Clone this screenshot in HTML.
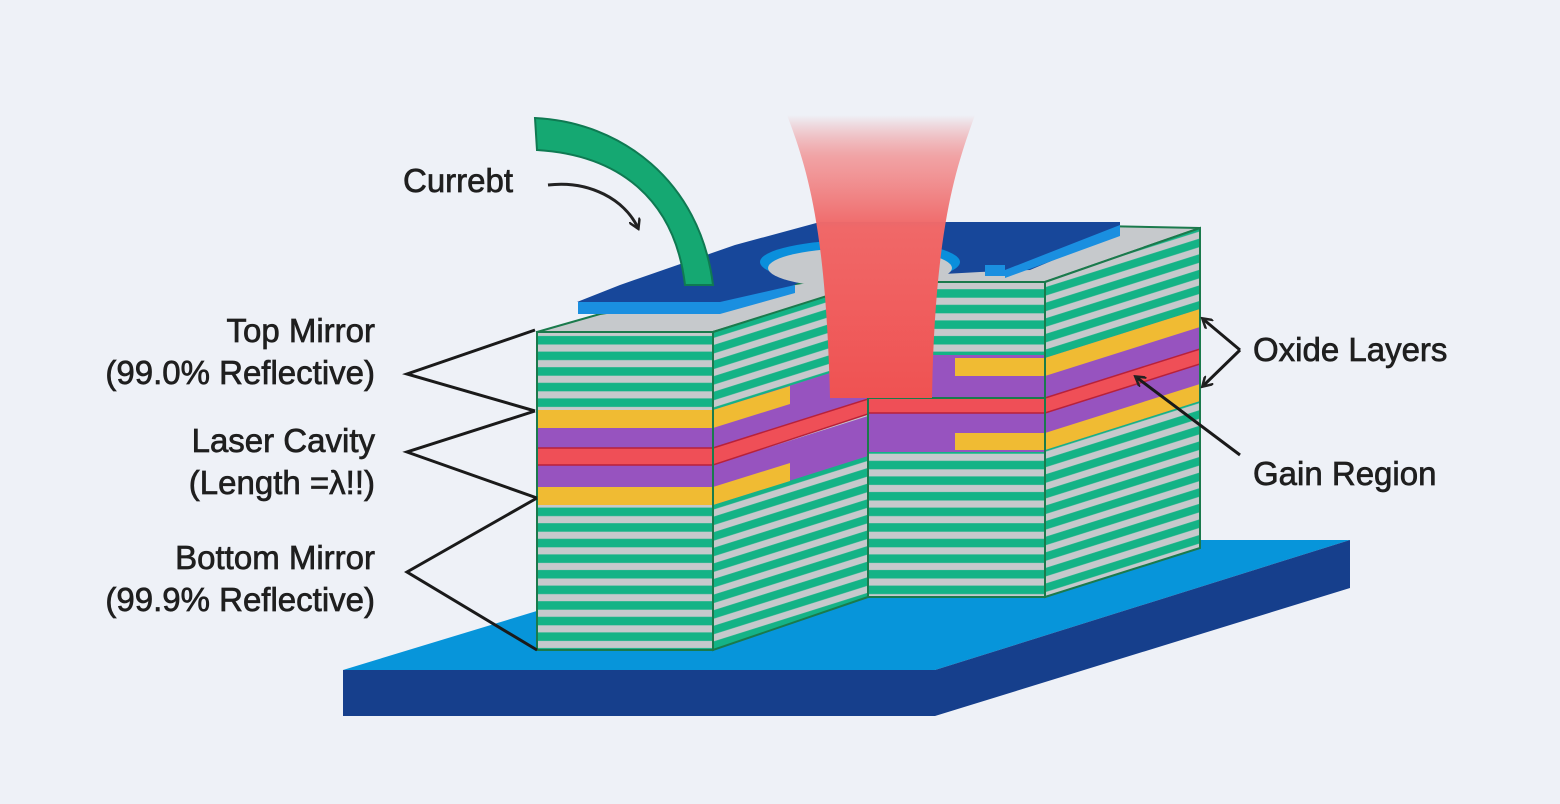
<!DOCTYPE html>
<html><head><meta charset="utf-8"><style>
html,body{margin:0;padding:0;background:#eef1f7;}
svg{display:block}
text{font-family:"Liberation Sans",sans-serif;font-size:33px;fill:#1f1f1f;stroke:#1f1f1f;stroke-width:0.7}
</style></head><body>
<svg width="1560" height="804" viewBox="0 0 1560 804" xmlns="http://www.w3.org/2000/svg">
<defs>
<pattern id="st" patternUnits="userSpaceOnUse" width="20" height="15.6" y="332">
<rect width="20" height="15.6" fill="#c6c9cc"/><rect y="4" width="20" height="8.5" fill="#14b386"/>
</pattern>
<pattern id="sk" patternUnits="userSpaceOnUse" width="20" height="15.6" y="332" patternTransform="skewY(-17.5)">
<rect width="20" height="15.6" fill="#c6c9cc"/><rect y="4" width="20" height="8.5" fill="#14b386"/>
</pattern>
<linearGradient id="beam" x1="0" y1="0" x2="0" y2="1">
<stop offset="0" stop-color="#f05a5a" stop-opacity="0"/>
<stop offset="0.15" stop-color="#f28080" stop-opacity="0.7"/>
<stop offset="0.4" stop-color="#f06868" stop-opacity="1"/>
<stop offset="1" stop-color="#ef5252"/>
</linearGradient>
<marker id="ah" markerWidth="12" markerHeight="12" refX="9" refY="6" orient="auto" markerUnits="userSpaceOnUse">
<path d="M0,0 L10,6 L0,12" fill="none" stroke="#222" stroke-width="2.5"/>
</marker>
</defs>

<polygon points="343,670 935,670 1350,540 770,540" fill="#0795da"/>
<polygon points="343,670 935,670 935,716 343,716" fill="#163f8c"/>
<polygon points="935,670 1350,540 1350,588 935,716" fill="#163f8c"/>

<polygon points="537,332 713,332 830,296 935,282 1045,282 1200,228 1100,226 1000,250 760,290 600,314" fill="#c6c9cc" stroke="#1a7a4c" stroke-width="2"/>
<polygon points="577,302 760,302 800,282 980,272 1030,270 1120,232 1120,222 820,222 735,245 620,285" fill="#17479a"/>
<ellipse cx="860" cy="262" rx="100" ry="22" fill="#0a8fdc"/>
<ellipse cx="860" cy="268" rx="92" ry="20" fill="#c6c9cc"/>
<polygon points="578,302 720,302 720,314 578,314" fill="#1a8fe0"/>
<polygon points="720,302 795,285 795,293 720,314" fill="#1a8fe0"/>
<polygon points="985,265 1005,265 1005,276 985,276" fill="#1a8fe0"/>
<polygon points="1005,270 1120,225 1120,236 1005,278" fill="#1a8fe0"/>

<rect x="868" y="282" width="177" height="120" fill="url(#st)"/>
<rect x="868" y="355" width="177" height="45" fill="#9753bf"/>
<rect x="955" y="358" width="90" height="18" fill="#f0bb33"/>
<line x1="1045" y1="282" x2="935" y2="282" stroke="#1a7a4c" stroke-width="2"/>

<rect x="868" y="398" width="177" height="199" fill="url(#st)"/>
<rect x="868" y="413" width="177" height="39" fill="#9753bf"/>
<rect x="955" y="433" width="90" height="17" fill="#f0bb33"/>
<rect x="868" y="398" width="177" height="15" fill="#ef4f57" stroke="#b8213a" stroke-width="1.5"/>
<rect x="868" y="398" width="177" height="199" fill="none" stroke="#1a7a4c" stroke-width="2"/>

<polygon points="713,332 868,283 868,597 713,650" fill="url(#sk)"/>
<polygon points="713,410 868,361 868,399 713,448" fill="#9753bf"/>
<polygon points="713,410 790,386 790,404 713,428" fill="#f0bb33"/>
<polygon points="713,465 868,416 868,456 713,505" fill="#9753bf"/>
<polygon points="713,487 790,463 790,481 713,505" fill="#f0bb33"/>
<polygon points="713,448 868,399 868,414 713,465" fill="#ef4f57" stroke="#b8213a" stroke-width="1.5"/>
<polygon points="713,332 868,283 868,597 713,650" fill="none" stroke="#1a7a4c" stroke-width="2"/>

<polygon points="1045,282 1200,228 1200,548 1045,597" fill="url(#sk)"/>
<polygon points="1045,358 1200,309 1200,349 1045,398" fill="#9753bf"/>
<polygon points="1045,358 1200,309 1200,327 1045,376" fill="#f0bb33"/>
<polygon points="1045,413 1200,364 1200,401 1045,450" fill="#9753bf"/>
<polygon points="1045,433 1200,384 1200,401 1045,450" fill="#f0bb33"/>
<polygon points="1045,398 1200,349 1200,364 1045,413" fill="#ef4f57" stroke="#b8213a" stroke-width="1.5"/>
<polygon points="1045,282 1200,228 1200,548 1045,597" fill="none" stroke="#1a7a4c" stroke-width="2"/>

<rect x="537" y="332" width="176" height="318" fill="url(#st)"/>
<rect x="537" y="410" width="176" height="18" fill="#f0bb33"/>
<rect x="537" y="428" width="176" height="20" fill="#9753bf"/>
<rect x="537" y="465" width="176" height="22" fill="#9753bf"/>
<rect x="537" y="487" width="176" height="18" fill="#f0bb33"/>
<rect x="537" y="448" width="176" height="17" fill="#ef4f57" stroke="#b8213a" stroke-width="1.5"/>
<rect x="537" y="332" width="176" height="318" fill="none" stroke="#1a7a4c" stroke-width="2"/>

<path d="M787,115 L975,115 C955,170 935,230 932,398 L830,398 C826,230 808,170 787,115 Z" fill="url(#beam)"/>

<path d="M535,118 C620,122 700,180 713,285 L685,285 C675,200 620,155 537,150 Z" fill="#15a872" stroke="#0f7a52" stroke-width="2"/>
<path d="M548,185 C590,180 625,200 638,228" fill="none" stroke="#222" stroke-width="3" marker-end="url(#ah)"/>

<polyline points="535,330 407,374 535,411" fill="none" stroke="#1a1a1a" stroke-width="3"/>
<polyline points="535,411 407,452 537,498" fill="none" stroke="#1a1a1a" stroke-width="3"/>
<polyline points="537,498 407,572 537,650" fill="none" stroke="#1a1a1a" stroke-width="3"/>
<line x1="1240" y1="350" x2="1203" y2="319" stroke="#1a1a1a" stroke-width="3" marker-end="url(#ah)"/>
<line x1="1240" y1="350" x2="1203" y2="386" stroke="#1a1a1a" stroke-width="3" marker-end="url(#ah)"/>
<line x1="1240" y1="455" x2="1136" y2="377" stroke="#1a1a1a" stroke-width="3" marker-end="url(#ah)"/>

<text x="403" y="192">Currebt</text>
<text x="375" y="342" text-anchor="end">Top Mirror</text>
<text x="375" y="384" text-anchor="end">(99.0% Reflective)</text>
<text x="375" y="452" text-anchor="end">Laser Cavity</text>
<text x="375" y="494" text-anchor="end">(Length =λ!!)</text>
<text x="375" y="569" text-anchor="end">Bottom Mirror</text>
<text x="375" y="611" text-anchor="end">(99.9% Reflective)</text>
<text x="1253" y="361">Oxide Layers</text>
<text x="1253" y="485">Gain Region</text>
</svg>
</body></html>
